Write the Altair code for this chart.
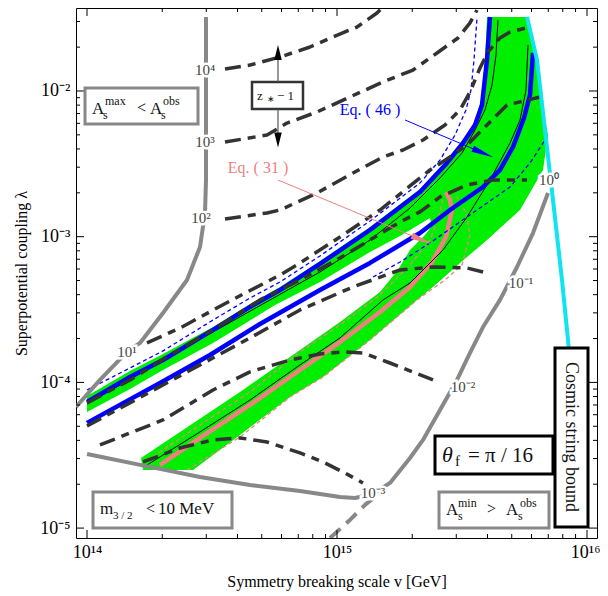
import altair as alt
import pandas as pd

# ---------------- data: log10(v / GeV) and log10(lambda) ----------------
AMAX_V = [13.956, 14.052, 14.16, 14.212, 14.304, 14.4, 14.452, 14.472, 14.476, 14.476]
AMAX_L = [-4.169, -3.983, -3.791, -3.729, -3.524, -3.297, -3.071, -2.837, -2.611, -1.492]

AMIN_V = [14.0, 14.252, 14.452, 14.652, 14.852, 15.012, 15.072, 15.144, 15.212, 15.292, 15.344,
          15.412, 15.48, 15.532, 15.584, 15.652, 15.72, 15.784, 15.844]
AMIN_L = [-4.491, -4.580, -4.649, -4.704, -4.745, -4.786, -4.793, -4.766, -4.690, -4.519, -4.395,
          -4.189, -3.983, -3.798, -3.620, -3.434, -3.208, -2.975, -2.700]

GDASH_V = [14.972, 15.052, 15.112, 15.152]
GDASH_L = [-5.068, -4.944, -4.841, -4.786]

CYAN_V = [15.76, 15.8, 15.832, 15.864, 15.9, 15.932, 15.96, 15.984]
CYAN_L = [-1.492, -1.787, -2.268, -2.748, -3.297, -3.846, -4.395, -4.999]

C4_V = [14.552, 14.652, 14.772, 14.892, 14.984, 15.08, 15.16, 15.18]
C4_L = [-1.849, -1.822, -1.767, -1.698, -1.629, -1.561, -1.465, -1.43]
C3_V = [14.552, 14.72, 14.8, 14.92, 15.052, 15.184, 15.304, 15.4, 15.484, 15.532, 15.56]
C3_L = [-2.350, -2.302, -2.220, -2.144, -2.041, -1.938, -1.856, -1.739, -1.636, -1.533, -1.444]
C2_V = [14.552, 14.72, 14.772, 14.92, 15.064, 15.184, 15.264, 15.344, 15.432, 15.492, 15.532,
        15.572, 15.604, 15.652, 15.692, 15.772]
C2_L = [-2.878, -2.837, -2.817, -2.700, -2.563, -2.453, -2.405, -2.336, -2.233, -2.130, -2.007,
        -1.842, -1.732, -1.636, -1.595, -1.561]
C1_V = [14.24, 14.372, 14.572, 14.772, 14.852, 15.012, 15.172, 15.292, 15.372, 15.452, 15.52,
        15.6, 15.68, 15.732, 15.812]
C1_L = [-3.729, -3.627, -3.441, -3.263, -3.180, -3.002, -2.817, -2.652, -2.542, -2.453, -2.371,
        -2.233, -2.096, -2.075, -2.041]
C0_V = [14.0, 14.172, 14.332, 14.504, 14.692, 14.852, 15.012, 15.172, 15.252, 15.332, 15.412,
        15.52, 15.624, 15.76]
C0_L = [-4.141, -3.983, -3.812, -3.640, -3.434, -3.297, -3.146, -2.981, -2.899, -2.830, -2.727,
        -2.645, -2.611, -2.611]
CM1_V = [14.0, 14.252, 14.452, 14.652, 14.852, 15.064, 15.252, 15.384, 15.52, 15.6]
CM1_L = [-4.299, -4.066, -3.880, -3.695, -3.503, -3.345, -3.228, -3.208, -3.215, -3.249]
CM2_V = [14.052, 14.304, 14.504, 14.652, 14.812, 14.932, 15.024, 15.104, 15.212, 15.384]
CM2_L = [-4.429, -4.258, -4.052, -3.928, -3.846, -3.805, -3.791, -3.798, -3.867, -3.983]
CM3_V = [14.224, 14.372, 14.504, 14.612, 14.72, 14.852, 14.944, 15.032, 15.104]
CM3_L = [-4.546, -4.450, -4.395, -4.381, -4.409, -4.484, -4.546, -4.622, -4.690]

BU_V = [14.0, 14.172, 14.304, 14.504, 14.652, 14.772, 14.932, 15.132, 15.332, 15.44, 15.504,
        15.552, 15.58, 15.6, 15.612]
BU_L = [-4.134, -3.963, -3.846, -3.640, -3.482, -3.366, -3.187, -2.954, -2.693, -2.494, -2.357,
        -2.233, -2.096, -1.787, -1.492]
BL_V = [14.0, 14.292, 14.492, 14.692, 14.932, 15.132, 15.332, 15.452, 15.584, 15.652, 15.704,
        15.748, 15.772, 15.784]
BL_L = [-4.278, -4.004, -3.812, -3.599, -3.366, -3.180, -2.975, -2.817, -2.659, -2.542, -2.384,
        -2.185, -2.027, -1.739]
BDU_V = [14.0, 14.172, 14.304, 14.504, 14.652, 14.772, 14.932, 15.132, 15.332, 15.412, 15.472,
         15.516, 15.536, 15.548, 15.56]
BDU_L = [-4.052, -3.901, -3.784, -3.572, -3.421, -3.311, -3.132, -2.892, -2.631, -2.474, -2.302,
         -2.130, -1.993, -1.787, -1.499]
BDL_V = [15.144, 15.252, 15.372, 15.52, 15.692, 15.772, 15.84]
BDL_L = [-3.277, -3.174, -3.043, -2.865, -2.659, -2.494, -2.316]

PK_V = [14.292, 14.452, 14.652, 14.852, 15.012, 15.172, 15.292, 15.38, 15.436, 15.46, 15.452, 15.436]
PK_L = [-4.567, -4.381, -4.155, -3.915, -3.723, -3.517, -3.345, -3.174, -3.002, -2.817, -2.748, -2.693]
PDU_V = [14.264, 14.452, 14.652, 14.852, 15.012, 15.172, 15.292, 15.372, 15.412, 15.424]
PDU_L = [-4.512, -4.292, -4.066, -3.791, -3.606, -3.400, -3.194, -3.023, -2.837, -2.727]
PDL_V = [14.4, 14.612, 14.812, 14.944, 15.132, 15.32, 15.432, 15.5, 15.532, 15.516, 15.48]
PDL_L = [-4.601, -4.375, -4.100, -3.963, -3.709, -3.434, -3.297, -3.194, -2.988, -2.837, -2.727]

K1_V = [14.0, 14.252, 14.504, 14.732, 14.932, 15.132, 15.292, 15.412, 15.5, 15.552, 15.592, 15.62,
        15.636, 15.644]
K1_L = [-4.148, -3.901, -3.654, -3.434, -3.242, -3.023, -2.803, -2.597, -2.426, -2.268, -2.130,
        -1.959, -1.753, -1.513]
K2_V = [14.24, 14.452, 14.652, 14.852, 15.012, 15.184, 15.292, 15.424, 15.52, 15.612, 15.692,
        15.732, 15.756, 15.764]
K2_L = [-4.567, -4.340, -4.121, -3.880, -3.695, -3.434, -3.318, -3.091, -2.865, -2.611, -2.357,
        -2.199, -1.993, -1.684]

GREEN_V = [14.0, 14.172, 14.304, 14.504, 14.652, 14.772, 14.932, 15.132, 15.332, 15.44, 15.504,
           15.552, 15.576, 15.592, 15.6, 15.76, 15.8, 15.832, 15.844, 15.824, 15.732, 15.6, 15.492,
           15.384, 15.32, 15.132, 14.944, 14.812, 14.612, 14.424, 14.224, 14.216, 14.372, 14.612,
           14.852, 15.012, 15.172, 15.244, 15.292, 15.352, 15.38, 15.372, 15.252, 15.132, 14.932,
           14.752, 14.504, 14.304, 14.172, 14.0]
GREEN_L = [-4.093, -3.922, -3.805, -3.620, -3.462, -3.345, -3.167, -2.933, -2.673, -2.474, -2.336,
           -2.213, -2.062, -1.787, -1.492, -1.492, -1.787, -2.199, -2.302, -2.542, -2.817, -3.023,
           -3.180, -3.345, -3.434, -3.709, -3.963, -4.100, -4.361, -4.601, -4.601, -4.519, -4.340,
           -4.066, -3.778, -3.585, -3.379, -3.228, -3.091, -2.988, -2.927, -2.872, -2.995, -3.105,
           -3.311, -3.469, -3.730, -3.915, -4.045, -4.203]

X_MAJOR = [1e14, 1e15, 1e16]
X_MINOR = [2e14, 3e14, 4e14, 5e14, 6e14, 7e14, 8e14, 9e14,
           2e15, 3e15, 4e15, 5e15, 6e15, 7e15, 8e15, 9e15]
Y_MAJOR = [1e-5, 1e-4, 1e-3, 1e-2]
Y_MINOR = [2e-5, 3e-5, 4e-5, 5e-5, 6e-5, 7e-5, 8e-5, 9e-5,
           2e-4, 3e-4, 4e-4, 5e-4, 6e-4, 7e-4, 8e-4, 9e-4,
           2e-3, 3e-3, 4e-3, 5e-3, 6e-3, 7e-3, 8e-3, 9e-3, 2e-2, 3e-2]

# contour labels (text, log v, log lambda)
CLAB_T = ["10⁴", "10³", "10²", "10¹", "10⁰", "10⁻¹", "10⁻²", "10⁻³"]
CLAB_V = [14.472, 14.472, 14.456, 14.16, 15.848, 15.736, 15.504, 15.144]
CLAB_L = [-1.856, -2.350, -2.872, -3.791, -2.611, -3.318, -4.032, -4.759]

# ---------------- style ----------------
FONT = "Liberation Serif"
W, H = 521, 530
XS = alt.Scale(type="log", domain=[10 ** 13.956, 10 ** 16.04], nice=False)
YS = alt.Scale(type="log", domain=[10 ** -5.068, 10 ** -1.4304], nice=False)
GREEN = "#00ee00"
BLUE = "#0000ff"
PINK = "#f08080"
GRAY = "#888888"
DARK = "#333333"
CYAN = "#10e4ee"

x_axis = alt.Axis(values=X_MAJOR, ticks=False, domain=False, grid=False,
                  labelExpr="datum.value < 5e14 ? '10¹⁴' : datum.value < 5e15 ? '10¹⁵' : '10¹⁶'",
                  labelFont=FONT, labelFontSize=18, labelColor="black", labelPadding=5,
                  labelFlush=10.5, labelFlushOffset=13,
                  titleFont=FONT, titleFontSize=16,
                  titleFontWeight="normal", titleColor="black", titlePadding=12)
y_axis = alt.Axis(values=Y_MAJOR, ticks=False, domain=False, grid=False,
                  labelExpr="datum.value < 5e-5 ? '10⁻⁵' : datum.value < 5e-4 ? '10⁻⁴' : datum.value < 5e-3 ? '10⁻³' : '10⁻²'",
                  labelFont=FONT, labelFontSize=18, labelColor="black", labelPadding=6,
                  labelFlush=False,
                  titleFont=FONT, titleFontSize=16,
                  titleFontWeight="normal", titleColor="black", titlePadding=10)


def X():
    return alt.X("v:Q", scale=XS, axis=x_axis, title="Symmetry breaking scale v [GeV]")


def Y():
    return alt.Y("l:Q", scale=YS, axis=y_axis, title="Superpotential coupling λ")


def frame(vs, ls):
    return pd.DataFrame({"v": [10 ** a for a in vs], "l": [10 ** b for b in ls],
                         "i": list(range(len(vs)))})


def line(vs, ls, color, width, dash=None):
    kw = dict(color=color, strokeWidth=width, clip=True, strokeJoin="round")
    if dash:
        kw["strokeDash"] = dash
    return alt.Chart(frame(vs, ls)).mark_line(**kw).encode(x=X(), y=Y(), order="i:Q")


layers = []
# green region
layers.append(alt.Chart(frame(GREEN_V, GREEN_L)).mark_line(
    filled=True, color=GREEN, clip=True).encode(x=X(), y=Y(), order="i:Q"))

layers += [
    line(PDU_V, PDU_L, PINK, 1.3, [4, 3]),
    line(PDL_V, PDL_L, PINK, 1.3, [4, 3]),
    line(PK_V, PK_L, PINK, 4.5),
    line(K1_V, K1_L, "black", 1),
    line(K2_V, K2_L, "black", 1),
    line(BDU_V, BDU_L, BLUE, 1.3, [4, 3]),
    line(BDL_V, BDL_L, BLUE, 1.3, [4, 3]),
    line(BU_V, BU_L, BLUE, 4.5),
    line(BL_V, BL_L, BLUE, 4.5),
]
for vs, ls in [(C4_V, C4_L), (C3_V, C3_L), (C2_V, C2_L), (C1_V, C1_L), (C0_V, C0_L),
               (CM1_V, CM1_L), (CM2_V, CM2_L), (CM3_V, CM3_L)]:
    layers.append(line(vs, ls, DARK, 3.5, [16, 7, 8, 7]))
layers += [
    line(AMAX_V, AMAX_L, GRAY, 4),
    line(AMIN_V, AMIN_L, GRAY, 4),
    line(GDASH_V, GDASH_L, GRAY, 4, [14, 8]),
    line(CYAN_V, CYAN_L, CYAN, 4),
]


# ticks on all four sides, pointing inward
def ticks(vals, length, horizontal):
    df = pd.DataFrame({"v": vals, "l": vals})
    base = alt.Chart(df).mark_rule(color="black", strokeWidth=1)
    if horizontal:
        return [base.encode(x=X(), y=alt.value(H), y2=alt.value(H - length)),
                base.encode(x=X(), y=alt.value(0), y2=alt.value(length))]
    return [base.encode(y=Y(), x=alt.value(0), x2=alt.value(length)),
            base.encode(y=Y(), x=alt.value(W), x2=alt.value(W - length))]


layers += ticks(X_MAJOR, 8, True) + ticks(X_MINOR, 4, True)
layers += ticks(Y_MAJOR, 8, False) + ticks(Y_MINOR, 4, False)

# contour labels with white halo
clab = pd.DataFrame({"v": [10 ** a for a in CLAB_V], "l": [10 ** b for b in CLAB_L], "t": CLAB_T})
layers.append(alt.Chart(clab).mark_text(font=FONT, fontSize=15, stroke="white", strokeWidth=5,
                                        color="white", baseline="middle")
              .encode(x=X(), y=Y(), text="t:N"))
layers.append(alt.Chart(clab).mark_text(font=FONT, fontSize=15, color="#444444", baseline="middle")
              .encode(x=X(), y=Y(), text="t:N"))


# annotation boxes
def box(v1, v2, l1, l2, stroke, sw):
    df = pd.DataFrame({"v": [10 ** v1], "v2": [10 ** v2], "l": [10 ** l1], "l2": [10 ** l2]})
    return alt.Chart(df).mark_rect(fill="white", stroke=stroke, strokeWidth=sw).encode(
        x=X(), x2="v2:Q", y=Y(), y2="l2:Q")


layers += [
    box(13.992, 14.444, -1.979, -2.226, GRAY, 3),
    box(14.024, 14.58, -4.752, -4.999, GRAY, 3),
    box(15.392, 15.864, -4.368, -4.629, "black", 3),
    box(15.408, 15.848, -4.752, -4.999, GRAY, 3),
    box(15.872, 16.004, -3.764, -4.992, "black", 3),
    box(14.66, 14.864, -1.938, -2.124, DARK, 2.5),
]

# annotation text pieces: text, log v, log lambda (left/baseline), size
ANN_T = ["A", "s", "max", "<", "A", "s", "obs",
         "m", "3 / 2", "<", "10 MeV",
         "f", "= π / 16",
         "A", "s", "min", ">", "A", "s", "obs",
         "z", "∗", "− 1"]
ANN_V = [14.02, 14.064, 14.072, 14.2, 14.252, 14.296, 14.304,
         14.052, 14.104, 14.236, 14.284,
         15.472, 15.524,
         15.436, 15.484, 15.484, 15.6, 15.676, 15.724, 15.732,
         14.68, 14.72, 14.76]
ANN_L = [-2.158, -2.192, -2.096, -2.151, -2.158, -2.192, -2.096,
         -4.903, -4.938, -4.903, -4.903,
         -4.574, -4.546,
         -4.910, -4.944, -4.855, -4.903, -4.910, -4.944, -4.855,
         -2.062, -2.075, -2.062]
ANN_S = [17, 12, 12, 16, 17, 12, 12,
         17, 11, 16, 17,
         15, 21,
         17, 12, 12, 16, 17, 12, 12,
         13, 9, 13]
ann = pd.DataFrame({"v": [10 ** a for a in ANN_V], "l": [10 ** b for b in ANN_L],
                    "t": ANN_T, "s": ANN_S})
layers.append(alt.Chart(ann).mark_text(font=FONT, align="left", baseline="alphabetic", color="#111111")
              .encode(x=X(), y=Y(), text="t:N", size=alt.Size("s:Q", scale=None, legend=None)))

theta = pd.DataFrame({"v": [10 ** 15.42], "l": [10 ** -4.546], "t": ["θ"]})
layers.append(alt.Chart(theta).mark_text(font=FONT, fontSize=22, fontStyle="italic", align="left",
                                         baseline="alphabetic", color="#111111")
              .encode(x=X(), y=Y(), text="t:N"))

cosmic = pd.DataFrame({"v": [10 ** 15.936], "l": [10 ** -4.375], "t": ["Cosmic string bound"]})
layers.append(alt.Chart(cosmic).mark_text(font=FONT, fontSize=18, angle=90, align="center",
                                          baseline="middle", color="#111111")
              .encode(x=X(), y=Y(), text="t:N"))

eqs = pd.DataFrame({"v": [10 ** 15.132, 10 ** 14.684], "l": [10 ** -2.130, 10 ** -2.528],
                    "t": ["Eq. ( 46 )", "Eq. ( 31 )"], "c": [BLUE, PINK]})
layers.append(alt.Chart(eqs).mark_text(font=FONT, fontSize=16, baseline="middle")
              .encode(x=X(), y=Y(), text="t:N", color=alt.Color("c:N", scale=None, legend=None)))

# arrows
layers += [
    line([15.272, 15.584], [-2.199, -2.4255], BLUE, 1),
    line([14.764, 15.34], [-2.611, -3.0227], PINK, 1),
    line([14.764, 14.764], [-1.938, -1.736], "#555555", 1.2),
    line([14.764, 14.764], [-2.124, -2.336], "#555555", 1.2),
]
HEAD_LONG = "M0,-1L0.3,1L-0.3,1Z"
HEAD_SHORT = "M0,-1L0.5,1L-0.5,1Z"


def head(v, l, color, size, angle, shape):
    df = pd.DataFrame({"v": [10 ** v], "l": [10 ** l]})
    return alt.Chart(df).mark_point(shape=shape, filled=True, color=color, size=size, angle=angle,
                                    opacity=1).encode(x=X(), y=Y())


layers += [
    head(15.584, -2.4255, BLUE, 484, 112.8, HEAD_LONG),
    head(15.34, -3.0227, PINK, 484, 112.6, HEAD_LONG),
    head(14.764, -1.736, "black", 225, 0, HEAD_SHORT),
    head(14.764, -2.336, "black", 225, 180, HEAD_SHORT),
]

chart = alt.layer(*layers).properties(
    width=W, height=H,
    autosize=alt.AutoSizeParams(type="none"),
    padding={"left": 68, "top": 0, "right": 3, "bottom": 56},
).configure_view(stroke="black", strokeWidth=1)

chart.save("out.html", embed_options={"renderer": "svg", "actions": False})
